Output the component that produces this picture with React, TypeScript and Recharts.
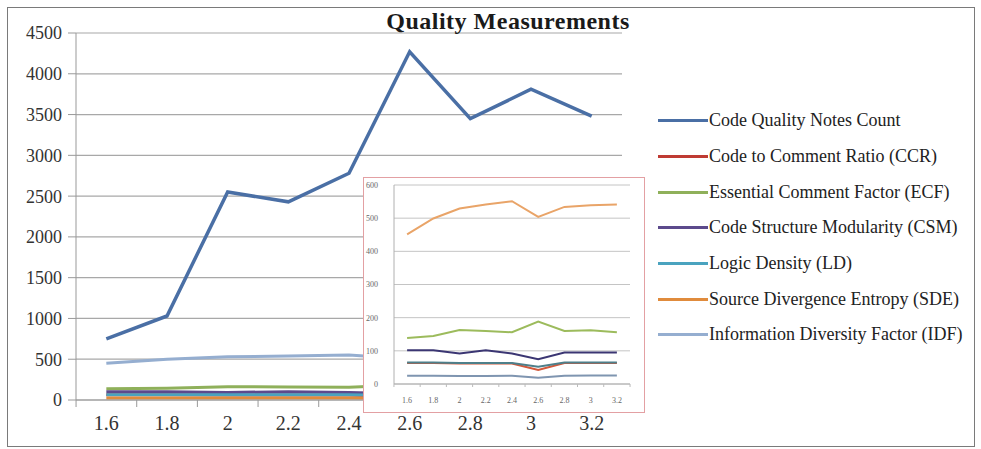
import React from 'react';
import { LineChart, Line, XAxis, YAxis, CartesianGrid } from 'recharts';

// release versions on the x axis
const versions = ['1.6', '1.8', '2', '2.2', '2.4', '2.6', '2.8', '3', '3.2'];

// measurement series, one value per version
const notesCount = [750, 1030, 2550, 2430, 2780, 4270, 3450, 3810, 3480];
const ccr = [63, 63, 62, 62, 62, 42, 63, 63, 63];
const ecf = [139, 145, 163, 160, 156, 188, 160, 162, 156];
const csm = [102, 102, 92, 102, 92, 75, 95, 95, 95];
const ld = [65, 65, 63, 63, 63, 52, 65, 65, 65];
const sde = [25, 25, 24, 24, 25, 19, 25, 26, 26];
const idf = [451, 499, 529, 541, 551, 504, 534, 539, 541];

const mainTicks = [0, 500, 1000, 1500, 2000, 2500, 3000, 3500, 4000, 4500];
const insetTicks = [0, 100, 200, 300, 400, 500, 600];
const xTicks = versions.map(Number);

const rows = versions.map((v, i) => ({
  x: Number(v),
  notes: notesCount[i],
  ccr: ccr[i],
  ecf: ecf[i],
  csm: csm[i],
  ld: ld[i],
  sde: sde[i],
  idf: idf[i],
}));

const series = [
  { key: 'notes', name: 'Code Quality Notes Count', color: '#4a6fa5', inset: '' },
  { key: 'ccr', name: 'Code to Comment Ratio (CCR)', color: '#bf3b33', inset: '#d2583a' },
  { key: 'ecf', name: 'Essential Comment Factor (ECF)', color: '#8fb05a', inset: '#9cbb5c' },
  { key: 'csm', name: 'Code Structure Modularity (CSM)', color: '#5c4a8c', inset: '#3b3673' },
  { key: 'ld', name: 'Logic Density (LD)', color: '#4aa3bf', inset: '#4d7f8a' },
  { key: 'sde', name: 'Source Divergence Entropy (SDE)', color: '#e08b3c', inset: '#7f95b0' },
  { key: 'idf', name: 'Information Diversity Factor (IDF)', color: '#95aed0', inset: '#e9a468' },
];

const serif = '"Liberation Serif", "Times New Roman", serif';

// plot widths, used to put x tick marks between the categories
const MAIN_HALF = 545 / 18;
const INSET_HALF = 237 / 18;

const fmt = (v: number) => String(Number(v.toFixed(1)));

const MainXTick = ({ x, y, payload }: any) => {
  const last = payload.value === xTicks[xTicks.length - 1];
  return (
    <g>
      <line x1={x - MAIN_HALF} x2={x - MAIN_HALF} y1={y} y2={y + 7} stroke="#999" />
      {last && <line x1={x + MAIN_HALF} x2={x + MAIN_HALF} y1={y} y2={y + 7} stroke="#999" />}
      <text x={x} y={y + 30} textAnchor="middle" fontFamily={serif} fontSize={20} fill="#333">
        {fmt(payload.value)}
      </text>
    </g>
  );
};

const InsetXTick = ({ x, y, payload }: any) => {
  const last = payload.value === xTicks[xTicks.length - 1];
  return (
    <g>
      <line x1={x - INSET_HALF} x2={x - INSET_HALF} y1={y} y2={y + 3} stroke="#bbb" />
      {last && <line x1={x + INSET_HALF} x2={x + INSET_HALF} y1={y} y2={y + 3} stroke="#bbb" />}
      <text x={x} y={y + 19} textAnchor="middle" fontFamily={serif} fontSize={8} fill="#666">
        {fmt(payload.value)}
      </text>
    </g>
  );
};

const LegendBox = () => (
  <div style={{ position: 'absolute', left: 658, top: 103, fontFamily: serif, fontSize: 18, color: '#222' }}>
    {series.map((s) => (
      <div key={s.key} style={{ display: 'flex', alignItems: 'center', height: 35.7, whiteSpace: 'nowrap' }}>
        <div style={{ width: 50, height: 3, background: s.color, marginRight: 1 }} />
        <span>{s.name}</span>
      </div>
    ))}
  </div>
);

const InsetChart = () => (
  <div
    style={{
      position: 'absolute',
      left: 363,
      top: 177,
      width: 282,
      height: 236,
      boxSizing: 'border-box',
      border: '1.5px solid #e3a0a3',
      background: '#fff',
    }}
  >
    <LineChart width={279} height={233} data={rows} margin={{ top: 7, right: 13, bottom: 2, left: 3 }}>
      <CartesianGrid vertical={false} stroke="#c4c4c4" />
      <XAxis
        dataKey="x"
        type="number"
        domain={[1.5, 3.3]}
        ticks={xTicks}
        allowDataOverflow
        height={25}
        tickSize={0}
        tickMargin={0}
        tickLine={false}
        axisLine={{ stroke: '#b0b0b0' }}
        tick={<InsetXTick />}
      />
      <YAxis
        domain={[0, 600]}
        ticks={insetTicks}
        width={27}
        tickSize={0}
        tickMargin={16}
        tickLine={false}
        axisLine={{ stroke: '#b0b0b0' }}
        tick={{ fontFamily: serif, fontSize: 8, fill: '#666' }}
      />
      {series
        .filter((s) => s.key !== 'notes')
        .map((s) => (
          <Line
            key={s.key}
            dataKey={s.key}
            stroke={s.inset}
            strokeWidth={2}
            dot={false}
            isAnimationActive={false}
          />
        ))}
    </LineChart>
  </div>
);

export default function App() {
  return (
    <div style={{ position: 'absolute', left: 0, top: 0, width: 981, height: 449, background: '#fff' }}>
      <div
        style={{
          position: 'absolute',
          left: 7,
          top: 7,
          width: 968,
          height: 440,
          boxSizing: 'border-box',
          border: '1.5px solid #7a7a7a',
        }}
      />
      <div style={{ position: 'absolute', left: 0, top: 0 }}>
        <LineChart width={981} height={449} data={rows} margin={{ top: 33, right: 359, bottom: 4, left: 16 }}>
          <CartesianGrid vertical={false} stroke="#a8a8a8" strokeWidth={1.2} />
          <XAxis
            dataKey="x"
            type="number"
            domain={[1.5, 3.3]}
            ticks={xTicks}
            allowDataOverflow
            height={45}
            tickSize={0}
            tickMargin={0}
            tickLine={false}
            axisLine={{ stroke: '#999' }}
            tick={<MainXTick />}
          />
          <YAxis
            domain={[0, 4500]}
            ticks={mainTicks}
            width={60}
            tickSize={8}
            tickMargin={6}
            tickLine={{ stroke: '#999' }}
            axisLine={{ stroke: '#999' }}
            tick={{ fontFamily: serif, fontSize: 18, fill: '#333' }}
          />
          {series
            .slice(1)
            .map((s) => (
              <Line
                key={s.key}
                dataKey={s.key}
                stroke={s.color}
                strokeWidth={3}
                dot={false}
                isAnimationActive={false}
              />
            ))}
          <Line
            dataKey="notes"
            stroke={series[0].color}
            strokeWidth={3.5}
            dot={false}
            isAnimationActive={false}
          />
        </LineChart>
      </div>
      <div
        style={{
          position: 'absolute',
          left: 508,
          top: 8,
          transform: 'translateX(-50%)',
          fontFamily: serif,
          fontSize: 24,
          fontWeight: 700,
          letterSpacing: 0.5,
          color: '#1a1a1a',
          whiteSpace: 'nowrap',
        }}
      >
        Quality Measurements
      </div>
      <LegendBox />
      <InsetChart />
    </div>
  );
}
